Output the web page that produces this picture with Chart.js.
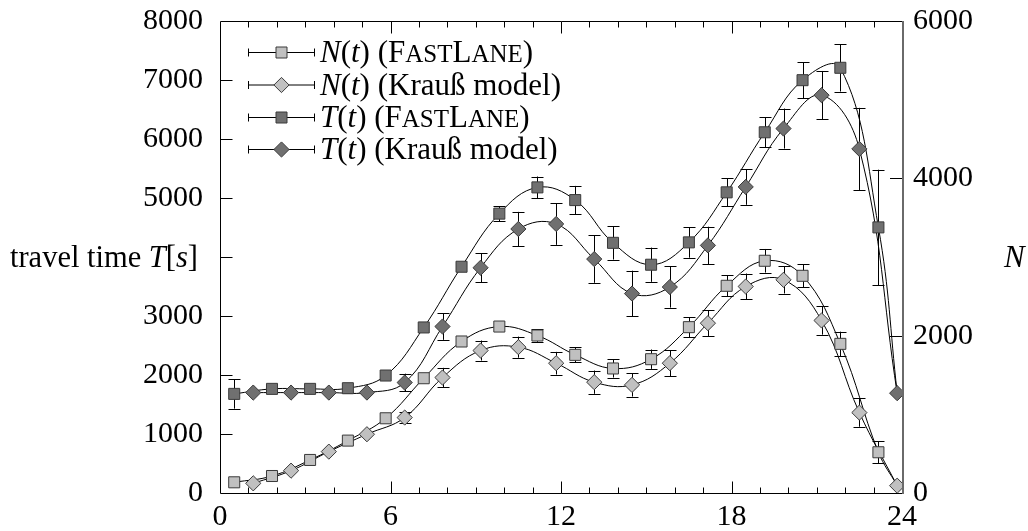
<!DOCTYPE html>
<html>
<head>
<meta charset="utf-8">
<script src="https://cdn.jsdelivr.net/npm/chart.js@4.4.1/dist/chart.umd.min.js"></script>
<style>
  html, body { margin: 0; padding: 0; background: #fff; }
  #wrap { width: 1028px; height: 531px; position: relative; }
</style>
</head>
<body>
<div id="wrap"><canvas id="c"></canvas></div>
<script>
// Sampling times [h] of the two simulators
const hoursFastLane = [0.5, 1.83, 3.17, 4.5, 5.83, 7.17, 8.5, 9.83, 11.17, 12.5, 13.83, 15.17, 16.5, 17.83, 19.17, 20.5, 21.83, 23.17];
const hoursKrauss   = [1.17, 2.5, 3.83, 5.17, 6.5, 7.83, 9.17, 10.5, 11.83, 13.17, 14.5, 15.83, 17.17, 18.5, 19.83, 21.17, 22.5, 23.83];

// Travel time T(t) [s] and its spread
const travelFastLane    = [1680, 1765, 1765, 1776, 1991, 2806, 3835, 4735, 5180, 4965, 4240, 3869, 4248, 5096, 6114, 6997, 7207, 4502];
const travelFastLaneErr = [250, 0, 0, 0, 0, 0, 0, 127, 184, 240, 283, 290, 260, 240, 258, 303, 402, 978];
const travelKrauss      = [1702, 1702, 1702, 1702, 1872, 2822, 3818, 4475, 4560, 3965, 3380, 3491, 4197, 5188, 6177, 6743, 5832, 1692];
const travelKraussErr   = [0, 0, 0, 0, 150, 226, 246, 290, 354, 402, 388, 348, 316, 303, 339, 410, 696, 0];

// Number of vehicles N(t) and its spread
const countFastLane    = [136, 216, 420, 666, 950, 1459, 1926, 2116, 2002, 1756, 1583, 1701, 2108, 2634, 2952, 2761, 1896, 518];
const countFastLaneErr = [0, 0, 0, 0, 0, 0, 0, 0, 80, 95, 115, 123, 127, 134, 150, 148, 155, 138];
const countKrauss      = [123, 284, 526, 747, 959, 1468, 1811, 1854, 1650, 1409, 1374, 1650, 2159, 2625, 2710, 2193, 1022, 93];
const countKraussErr   = [0, 0, 0, 0, 75, 123, 127, 134, 144, 148, 148, 165, 163, 165, 174, 180, 180, 0];

// End of the FastLane smoothing curves (curves close at the last sample hour)
const fastLaneCurveEndHour = 23.83;
const travelFastLaneCurveEnd = 1700;
const countFastLaneCurveEnd = 95;

// Axis ticks
const hourTicks = [0, 6, 12, 18, 24];
const travelTicks = [0, 1000, 2000, 3000, 4000, 5000, 6000, 7000, 8000];
const countTicks = [0, 2000, 4000, 6000];

const SERIF = '"Liberation Serif", "Times New Roman", Times, serif';
const FS = 30;
const LEGEND_FS = 31;
const LIGHT = '#c0c0c0';
const DARK = '#707070';
const EDGE = '#3a3a3a';

const series = [
  { hours: hoursFastLane, values: countFastLane,  errors: countFastLaneErr,  axis: 'yN', fill: LIGHT, style: 'rect',
    curveEnd: [fastLaneCurveEndHour, countFastLaneCurveEnd],
    label: [['N', 'i'], ['('], ['t', 'i'], [') ('], ['F'], ['AST', 'sc'], ['L'], ['ANE', 'sc'], [')']] },
  { hours: hoursKrauss,   values: countKrauss,    errors: countKraussErr,    axis: 'yN', fill: LIGHT, style: 'rectRot',
    curveEnd: null,
    label: [['N', 'i'], ['('], ['t', 'i'], [') (Krauß model)']] },
  { hours: hoursFastLane, values: travelFastLane, errors: travelFastLaneErr, axis: 'yT', fill: DARK, style: 'rect',
    curveEnd: [fastLaneCurveEndHour, travelFastLaneCurveEnd],
    label: [['T', 'i'], ['('], ['t', 'i'], [') ('], ['F'], ['AST', 'sc'], ['L'], ['ANE', 'sc'], [')']] },
  { hours: hoursKrauss,   values: travelKrauss,   errors: travelKraussErr,   axis: 'yT', fill: DARK, style: 'rectRot',
    curveEnd: null,
    label: [['T', 'i'], ['('], ['t', 'i'], [') (Krauß model)']] }
];

function toPoints(xs, ys) { return xs.map((x, i) => ({ x: x, y: ys[i] })); }

const datasets = [];
series.forEach(s => {
  const curve = toPoints(s.hours, s.values);
  if (s.curveEnd) curve.push({ x: s.curveEnd[0], y: s.curveEnd[1] });
  datasets.push({
    type: 'line', data: curve, yAxisID: s.axis, order: 3,
    borderColor: '#000', borderWidth: 1, tension: 0.4, pointRadius: 0, fill: false
  });
});
series.forEach(s => {
  datasets.push({
    type: 'line', data: toPoints(s.hours, s.values), yAxisID: s.axis, order: 1, showLine: false,
    pointStyle: s.style, pointRadius: s.style === 'rect' ? 7.8 : 7.6,
    pointBackgroundColor: s.fill, pointBorderColor: EDGE, pointBorderWidth: 1
  });
});

function setFont(ctx, kind, size) {
  if (kind === 'i') ctx.font = 'italic ' + size + 'px ' + SERIF;
  else if (kind === 'sc') ctx.font = Math.round(size * 0.8) + 'px ' + SERIF;
  else ctx.font = size + 'px ' + SERIF;
}
function drawRich(ctx, parts, x, y, align, size) {
  let w = 0;
  parts.forEach(p => { setFont(ctx, p[1], size); w += ctx.measureText(p[0]).width; });
  let cx = align === 'right' ? x - w : x;
  ctx.textAlign = 'left';
  ctx.textBaseline = 'alphabetic';
  parts.forEach(p => { setFont(ctx, p[1], size); ctx.fillText(p[0], cx, y); cx += ctx.measureText(p[0]).width; });
}
function marker(ctx, style, x, y, fill) {
  ctx.beginPath();
  if (style === 'rect') { const h = 5.5; ctx.rect(x - h, y - h, 2 * h, 2 * h); }
  else { const r = 7.6; ctx.moveTo(x - r, y); ctx.lineTo(x, y - r); ctx.lineTo(x + r, y); ctx.lineTo(x, y + r); ctx.closePath(); }
  ctx.fillStyle = fill; ctx.fill();
  ctx.strokeStyle = EDGE; ctx.lineWidth = 1; ctx.stroke();
}

const decorPlugin = {
  id: 'decor',
  beforeDatasetsDraw(chart) {
    // error bars, drawn beneath the markers
    const ctx = chart.ctx, xs = chart.scales.x;
    ctx.save();
    ctx.strokeStyle = '#000'; ctx.lineWidth = 1;
    series.forEach(s => {
      const ys = chart.scales[s.axis];
      s.hours.forEach((h, i) => {
        const e = s.errors[i];
        if (!e) return;
        const px = Math.round(xs.getPixelForValue(h)) + 0.5;
        const top = ys.getPixelForValue(s.values[i] + e);
        const bot = ys.getPixelForValue(s.values[i] - e);
        ctx.beginPath();
        ctx.moveTo(px, top); ctx.lineTo(px, bot);
        ctx.moveTo(px - 6, Math.round(top) + 0.5); ctx.lineTo(px + 6, Math.round(top) + 0.5);
        ctx.moveTo(px - 6, Math.round(bot) + 0.5); ctx.lineTo(px + 6, Math.round(bot) + 0.5);
        ctx.stroke();
      });
    });
    ctx.restore();
  },
  afterDraw(chart) {
    const ctx = chart.ctx, a = chart.chartArea;
    const xs = chart.scales.x, yT = chart.scales.yT, yN = chart.scales.yN;
    const L = a.left + 0.5, R = a.right + 0.5, T = a.top + 0.5, B = a.bottom + 0.5;
    ctx.save();
    // frame
    ctx.lineWidth = 1; ctx.strokeStyle = '#000';
    ctx.beginPath();
    ctx.moveTo(R, T); ctx.lineTo(L, T); ctx.lineTo(L, B); ctx.lineTo(R, B);
    ctx.stroke();
    ctx.strokeStyle = '#6a6a6a'; ctx.lineWidth = 2;
    ctx.beginPath(); ctx.moveTo(a.right + 1, a.top); ctx.lineTo(a.right + 1, a.bottom + 1); ctx.stroke();
    // inward ticks
    ctx.strokeStyle = '#000'; ctx.lineWidth = 1;
    ctx.beginPath();
    xs.ticks.forEach(t => {
      if (t.value <= 0 || t.value >= 24) return;
      const px = Math.round(xs.getPixelForValue(t.value)) + 0.5;
      const len = hourTicks.includes(t.value) ? 12 : 6;
      ctx.moveTo(px, B); ctx.lineTo(px, B - len);
      ctx.moveTo(px, T); ctx.lineTo(px, T + len);
    });
    travelTicks.forEach(v => {
      if (v <= 0 || v >= 8000) return;
      const py = Math.round(yT.getPixelForValue(v)) + 0.5;
      ctx.moveTo(L, py); ctx.lineTo(L + 12, py);
    });
    countTicks.forEach(v => {
      if (v <= 0 || v >= 6000) return;
      const py = Math.round(yN.getPixelForValue(v)) + 0.5;
      ctx.moveTo(a.right, py); ctx.lineTo(a.right - 12, py);
    });
    ctx.stroke();

    // axis titles
    ctx.fillStyle = '#000';
    drawRich(ctx, [['travel time '], ['T', 'i'], ['['], ['s', 'i'], [']']], 198, yT.getPixelForValue(4000) + 10, 'right', 30.5);
    drawRich(ctx, [['N', 'i']], 1004, yN.getPixelForValue(3000) + 10, 'left', 31);

    // legend
    const rows = [52, 84.5, 117, 149];
    series.forEach((s, i) => {
      const y = rows[i] + 0.5;
      ctx.strokeStyle = '#000'; ctx.lineWidth = 1;
      ctx.beginPath();
      ctx.moveTo(248, y); ctx.lineTo(315, y);
      ctx.moveTo(248.5, y - 4); ctx.lineTo(248.5, y + 4);
      ctx.moveTo(314.5, y - 4); ctx.lineTo(314.5, y + 4);
      ctx.stroke();
      marker(ctx, s.style, 281.5, y, s.fill);
      ctx.fillStyle = '#000';
      drawRich(ctx, s.label, 320, rows[i] + 10, 'left', LEGEND_FS);
    });
    ctx.restore();
  }
};

// fixed axis boxes so the plot area sits at a known place
function fixBox(size, key) {
  return s => {
    s[key] = size;
    s.paddingTop = 0; s.paddingBottom = 0; s.paddingLeft = 0; s.paddingRight = 0;
  };
}

new Chart(document.getElementById('c'), {
  data: { datasets: datasets },
  options: {
    responsive: true,
    maintainAspectRatio: false,
    animation: false,
    layout: { padding: { top: 21, left: 0, right: 0, bottom: 0 } },
    plugins: { legend: { display: false }, tooltip: { enabled: false } },
    scales: {
      x: {
        type: 'linear', position: 'bottom', min: 0, max: 24,
        grid: { display: false, drawTicks: false }, border: { display: false },
        afterFit: fixBox(38, 'height'),
        ticks: {
          stepSize: 1, autoSkip: false, maxRotation: 0, padding: 6, color: '#000',
          font: { family: SERIF, size: FS },
          callback: v => (hourTicks.includes(v) ? String(v) : '')
        }
      },
      yT: {
        type: 'linear', position: 'left', min: 0, max: 8000,
        grid: { display: false, drawTicks: false }, border: { display: false },
        afterFit: fixBox(220, 'width'),
        ticks: {
          stepSize: 1000, padding: 17, color: '#000',
          font: { family: SERIF, size: FS },
          callback: v => (v === 4000 ? '' : String(v))
        }
      },
      yN: {
        type: 'linear', position: 'right', min: 0, max: 6000,
        grid: { display: false, drawTicks: false }, border: { display: false },
        afterFit: fixBox(126, 'width'),
        ticks: {
          stepSize: 2000, padding: 11, color: '#000',
          font: { family: SERIF, size: FS },
          callback: v => String(v)
        }
      }
    }
  },
  plugins: [decorPlugin]
});
</script>
</body>
</html>
